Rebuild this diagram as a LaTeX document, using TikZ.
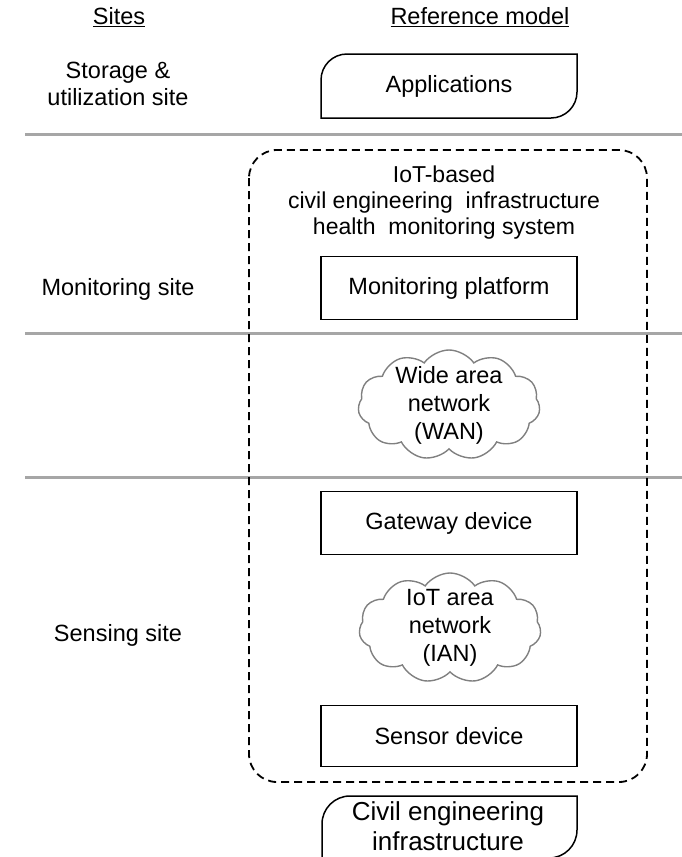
\documentclass[tikz,border=0pt]{standalone}
\usepackage{fontspec}
\setmainfont{Liberation Sans}
\usetikzlibrary{shapes.symbols}
\tikzset{
  lbl/.style={font=\fontsize{23.5}{26.5}\selectfont, align=center, inner sep=0pt},
  sitebar/.style={draw=black!35, line width=3pt},
  boxnode/.style={draw=black, line width=1.5pt, minimum width=256pt, minimum height=63pt, lbl},
  cloudnode/.style={cloud, cloud puffs=11, cloud puff arc=110, aspect=1.65, draw=black!50, line width=1.4pt,
     minimum width=182pt, minimum height=110pt, inner sep=0pt},
  cloudtext/.style={lbl, font=\fontsize{23.5}{28}\selectfont},
  frame/.style={draw=black, line width=1.8pt, dash pattern=on 8pt off 5pt, rounded corners=28pt},
  shapeline/.style={draw=black, line width=1.5pt}
}
\begin{document}
\begin{tikzpicture}[x=1pt,y=-1pt]
\useasboundingbox (0,0) rectangle (682,857);
% headings
\node[lbl] (sites) at (119,17) {\underline{Sites}};
\node[lbl] (refmodel) at (480,17) {\underline{Reference model}};
% site labels
\node[lbl] (storage) at (118,84) {Storage \&\\utilization site};
\node[lbl] (monsite) at (118,289) {Monitoring site};
\node[lbl] (senssite) at (118,635) {Sensing site};
% separators
\coordinate (l1a) at (25,134); \coordinate (l1b) at (682,134);
\coordinate (l2a) at (25,333); \coordinate (l2b) at (682,333);
\coordinate (l3a) at (25,477); \coordinate (l3b) at (682,477);
\draw[sitebar] (l1a) -- (l1b);
\draw[sitebar] (l2a) -- (l2b);
\draw[sitebar] (l3a) -- (l3b);
% applications shape
\draw[shapeline] (321,118) -- (321,80) arc[start angle=180,end angle=270,radius=26] -- (577,54) -- (577,92) arc[start angle=0,end angle=90,radius=26] -- cycle;
\node[lbl] (apps) at (449,86) {Applications};
% dashed frame
\draw[frame] (249,150) rectangle (647,782);
\node[lbl, font=\fontsize{23}{26}\selectfont] (title) at (444,203) {IoT-based\\civil engineering\ \ infrastructure\\health\ \ monitoring system};
% boxes
\node[boxnode] (mp) at (449,288) {Monitoring platform};
\node[cloudnode] (wan) at (449,405) {};
\node[cloudtext] (wantext) at (wan.center) {Wide area\\network\\(WAN)};
\node[boxnode] (gw) at (449,523) {Gateway device};
\node[cloudnode] (ian) at (450,628) {};
\node[cloudtext] (iantext) at (ian.center) {IoT area\\network\\(IAN)};
\node[boxnode, minimum height=61pt] (sd) at (449,736) {Sensor device};
% civil engineering infrastructure shape
\draw[shapeline] (322,860) -- (322,824) arc[start angle=180,end angle=270,radius=28] -- (577,796) -- (577,830) arc[start angle=0,end angle=90,radius=28] -- cycle;
\node[lbl, font=\fontsize{26}{30}\selectfont] (cei) at (448,826) {Civil engineering\\infrastructure};
\end{tikzpicture}
\end{document}
